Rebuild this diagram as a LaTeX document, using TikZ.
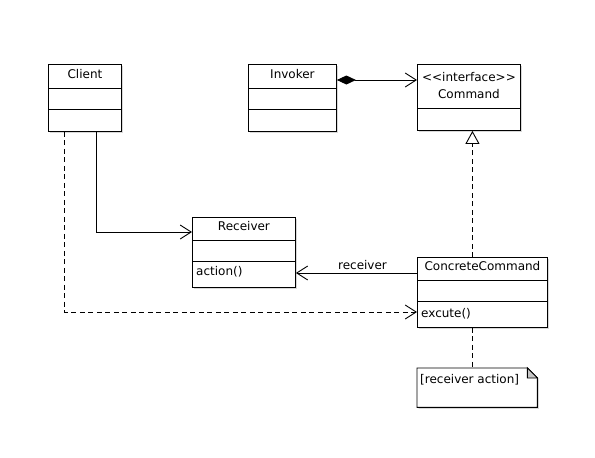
\documentclass[tikz,border=0pt]{standalone}
\usepackage{fontspec}
\setmainfont{DejaVu Sans}
\usetikzlibrary{arrows.meta,calc,shadows}
\begin{document}
\begin{tikzpicture}[x=1pt,y=-1pt,
  ln/.style={line width=0.9pt},
  shd/.style={drop shadow={shadow xshift=1.5pt,shadow yshift=-1.5pt,opacity=0.3}},
  cls/.style={ln,draw,fill=white,inner sep=0pt,anchor=north west,shd},
  txt/.style={anchor=base,inner sep=0pt,font=\fontsize{12}{14}\selectfont},
  ltxt/.style={txt,anchor=base west},
  assoc/.style={ln,-{Straight Barb[length=11pt,width=14pt,line width=0.9pt]}},
  depend/.style={assoc,dash pattern=on 5pt off 3.5pt},
  realize/.style={ln,dash pattern=on 5pt off 3.5pt,-{Triangle[open,length=13pt,width=14pt,line width=0.9pt,fill=white]}},
  compose/.style={ln,{Diamond[length=19pt,width=9pt]}-{Straight Barb[length=11pt,width=14pt,line width=0.9pt]}},
  notelink/.style={ln,dash pattern=on 5pt off 3.5pt}
]
\useasboundingbox (0,0) rectangle (595,458);
\fill[white] (0,0) rectangle (595,458);

% Client
\node[cls,minimum width=73pt,minimum height=67pt] (client) at (48,64) {};
\draw[ln] ($(client.north west)+(0,24)$) -- ($(client.north east)+(0,24)$);
\draw[ln] ($(client.north west)+(0,45)$) -- ($(client.north east)+(0,45)$);
\node[txt] (clientT) at ($(client.north)+(0,14)$) {Client};

% Invoker
\node[cls,minimum width=88pt,minimum height=67pt] (invoker) at (248,64) {};
\draw[ln] ($(invoker.north west)+(0,24)$) -- ($(invoker.north east)+(0,24)$);
\draw[ln] ($(invoker.north west)+(0,45)$) -- ($(invoker.north east)+(0,45)$);
\node[txt] (invokerT) at ($(invoker.north)+(0,14)$) {Invoker};

% Command
\node[cls,minimum width=103pt,minimum height=66pt] (command) at (417,64) {};
\draw[ln] ($(command.north west)+(0,44)$) -- ($(command.north east)+(0,44)$);
\node[txt] (commandS) at ($(command.north)+(0,17)$) {{<}{<}interface{>}{>}};
\node[txt] (commandT) at ($(command.north)+(0,34)$) {Command};

% Receiver
\node[cls,minimum width=103pt,minimum height=70pt] (receiver) at (192,217) {};
\draw[ln] ($(receiver.north west)+(0,23)$) -- ($(receiver.north east)+(0,23)$);
\draw[ln] ($(receiver.north west)+(0,44)$) -- ($(receiver.north east)+(0,44)$);
\node[txt] (receiverT) at ($(receiver.north)+(0,13)$) {Receiver};
\node[ltxt] (receiverM) at ($(receiver.north west)+(4,58)$) {action()};

% ConcreteCommand
\node[cls,minimum width=130pt,minimum height=70pt] (cc) at (417,257) {};
\draw[ln] ($(cc.north west)+(0,23)$) -- ($(cc.north east)+(0,23)$);
\draw[ln] ($(cc.north west)+(0,44)$) -- ($(cc.north east)+(0,44)$);
\node[txt] (ccT) at ($(cc.north)+(0,13)$) {ConcreteCommand};
\node[ltxt] (ccM) at ($(cc.north west)+(4,60)$) {excute()};

% Note
\node[inner sep=0pt,anchor=north west,minimum width=120pt,minimum height=39pt] (note) at (417,368) {};
\draw[ln,fill=white,shd] (note.north west) -- ($(note.north east)+(-10,0)$) -- ($(note.north east)+(0,10)$) -- (note.south east) -- (note.south west) -- cycle;
\draw[ln,fill=gray!45] ($(note.north east)+(-10,0)$) -- ($(note.north east)+(-10,10)$) -- ($(note.north east)+(0,10)$) -- cycle;
\node[ltxt] (noteT) at ($(note.north west)+(3,15)$) {[receiver action]};

% Connectors
\coordinate (ia) at ($(invoker.north east)+(0,16)$);
\draw[compose] (ia) -- (ia -| command.west);

\coordinate (rx) at ($(command.south)+(3.5,0)$);
\draw[realize] (rx |- cc.north) -- (rx);

\draw[assoc] ($(client.south)+(11.5,0)$) |- ($(receiver.north west)+(0,15)$);

\coordinate (ra) at ($(cc.north west)+(0,16)$);
\draw[assoc] (ra) -- node[pos=0.45,above=3pt,inner sep=0pt,font=\fontsize{12}{14}\selectfont] (recvL) {receiver} (ra -| receiver.east);

\draw[depend] ($(client.south)+(-20.5,0)$) |- ($(cc.north west)+(0,55)$);

\draw[notelink] (rx |- cc.south) -- (rx |- note.north);
\end{tikzpicture}
\end{document}
